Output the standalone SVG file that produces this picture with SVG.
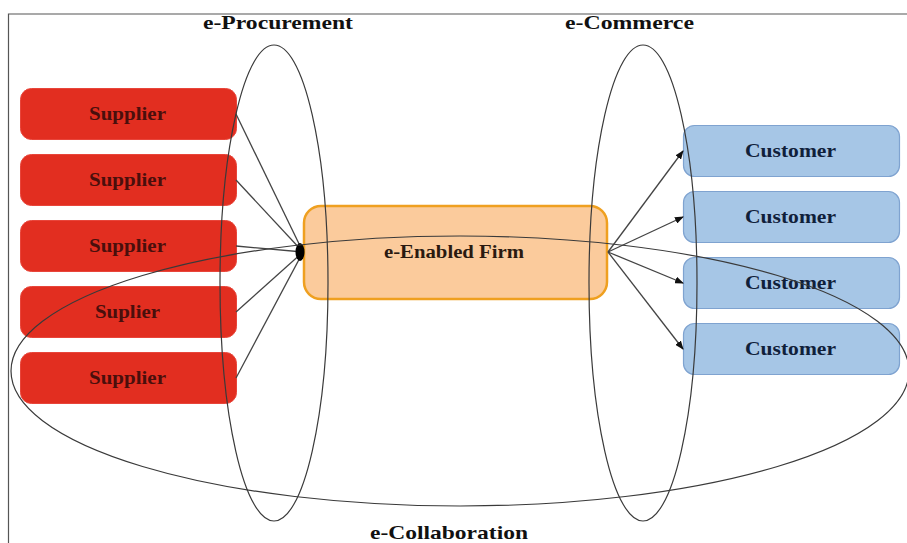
<svg xmlns="http://www.w3.org/2000/svg" width="907" height="543" viewBox="0 0 907 543">
<style>
text{font-family:"Liberation Serif","Times New Roman",serif;font-weight:700;text-anchor:middle}
.t{font-size:19px;fill:#111}
.n{font-size:18px}
.s rect{fill:#e22e20;stroke:#e8453a;stroke-width:1}
.s text{fill:#4a0f0c}
.c rect{fill:#a6c6e6;stroke:#7fa3d0;stroke-width:1.2}
.c text{fill:#10203a}
.l line{stroke:#444;stroke-width:1.3}
.o{fill:none;stroke:#3a3a3a;stroke-width:1.2}
</style>
<defs>
<marker id="a" markerWidth="9" markerHeight="7" refX="8" refY="3.500" orient="auto" markerUnits="userSpaceOnUse"><path d="M0 0L9 3.500L0 7Z" fill="#111"/></marker>
</defs>
<rect width="907" height="543" fill="#fff"/>
<path d="M8.500 543V14H907" fill="none" stroke="#555" stroke-width="1.200"/>
<g id="firm"><rect x="304" y="206" width="303" height="93" rx="17" fill="#fbcb9c" stroke="#efa020" stroke-width="2.500"/><text class="n" x="454" y="258" fill="#2a1a10" textLength="140" lengthAdjust="spacingAndGlyphs">e-Enabled Firm</text></g>
<g id="s1" class="s"><rect x="20.500" y="88.500" width="216" height="51" rx="11"/><text class="n" x="127.500" y="120" textLength="77" lengthAdjust="spacingAndGlyphs">Supplier</text></g>
<g id="s2" class="s"><rect x="20.500" y="154.500" width="216" height="51" rx="11"/><text class="n" x="127.500" y="186" textLength="77" lengthAdjust="spacingAndGlyphs">Supplier</text></g>
<g id="s3" class="s"><rect x="20.500" y="220.500" width="216" height="51" rx="11"/><text class="n" x="127.500" y="252" textLength="77" lengthAdjust="spacingAndGlyphs">Supplier</text></g>
<g id="s4" class="s"><rect x="20.500" y="286.500" width="216" height="51" rx="11"/><text class="n" x="127.500" y="318" textLength="65" lengthAdjust="spacingAndGlyphs">Suplier</text></g>
<g id="s5" class="s"><rect x="20.500" y="352.500" width="216" height="51" rx="11"/><text class="n" x="127.500" y="384" textLength="77" lengthAdjust="spacingAndGlyphs">Supplier</text></g>
<g id="c1" class="c"><rect x="683.500" y="125.500" width="216" height="51" rx="11"/><text class="n" x="790.500" y="156.500" textLength="91" lengthAdjust="spacingAndGlyphs">Customer</text></g>
<g id="c2" class="c"><rect x="683.500" y="191.500" width="216" height="51" rx="11"/><text class="n" x="790.500" y="222.500" textLength="91" lengthAdjust="spacingAndGlyphs">Customer</text></g>
<g id="c3" class="c"><rect x="683.500" y="257.500" width="216" height="51" rx="11"/><text class="n" x="790.500" y="288.500" textLength="91" lengthAdjust="spacingAndGlyphs">Customer</text></g>
<g id="c4" class="c"><rect x="683.500" y="323.500" width="216" height="51" rx="11"/><text class="n" x="790.500" y="354.500" textLength="91" lengthAdjust="spacingAndGlyphs">Customer</text></g>
<g id="connectors" class="l">
<line x1="236" y1="114" x2="303" y2="252"/>
<line x1="236" y1="180" x2="303" y2="252"/>
<line x1="236" y1="246" x2="303" y2="252"/>
<line x1="236" y1="312" x2="303" y2="252"/>
<line x1="236" y1="378" x2="303" y2="252"/>
<line x1="608" y1="252" x2="683" y2="151" marker-end="url(#a)"/>
<line x1="608" y1="252" x2="683" y2="217" marker-end="url(#a)"/>
<line x1="608" y1="252" x2="683" y2="283" marker-end="url(#a)"/>
<line x1="608" y1="252" x2="683" y2="349" marker-end="url(#a)"/>
<ellipse cx="300" cy="252" rx="4.500" ry="9" fill="#000" stroke="none"/>
</g>
<g id="e-procurement"><ellipse class="o" cx="274" cy="283" rx="54" ry="238"/><text class="t" x="278" y="29" textLength="150" lengthAdjust="spacingAndGlyphs">e-Procurement</text></g>
<g id="e-commerce"><ellipse class="o" cx="643" cy="283" rx="54" ry="238"/><text class="t" x="629.500" y="29" textLength="129" lengthAdjust="spacingAndGlyphs">e-Commerce</text></g>
<g id="e-collaboration"><ellipse class="o" cx="460" cy="371" rx="449" ry="135"/><text class="t" x="449" y="538.500" textLength="158" lengthAdjust="spacingAndGlyphs">e-Collaboration</text></g>
</svg>
